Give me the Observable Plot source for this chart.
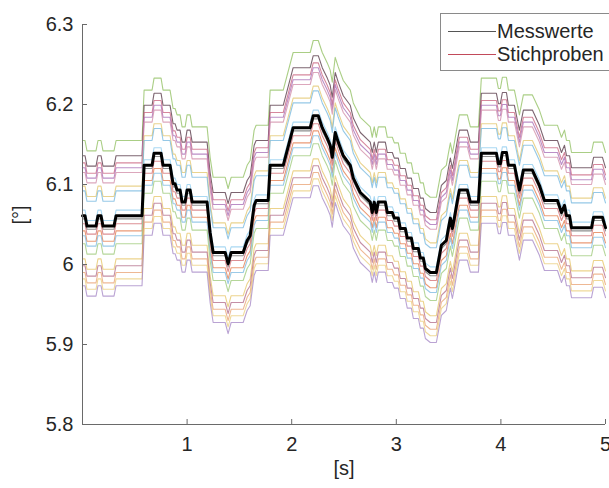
<!DOCTYPE html>
<html>
<head>
<meta charset="utf-8">
<script src="https://cdn.jsdelivr.net/npm/d3@7"></script>
<script src="https://cdn.jsdelivr.net/npm/@observablehq/plot@0.6"></script>
<style>
  html, body { margin: 0; padding: 0; background: #fff; overflow: hidden; }
  #wrap { position: relative; width: 609px; height: 488px; overflow: hidden; }
  #legend { position: absolute; left: 440px; top: 13px; width: 200px; height: 56px;
    border: 1px solid #8a8a8a; background: #fff; font-family: "Liberation Sans", Arial, sans-serif;
    font-size: 20px; color: #262626; }
  .row { position: absolute; left: 0; height: 24px; }
  .sw { position: absolute; left: 7px; width: 48px; height: 0; top: 12px; }
  .lab { position: absolute; left: 56px; top: 0; line-height: 24px; white-space: nowrap; }
</style>
</head>
<body>
<div id="wrap">
  <div id="chart"></div>
  <div id="legend"></div>
</div>
<script>
// time axis [s]
const timeS = [0,0.024,0.043,0.129,0.148,0.177,0.196,0.301,0.321,0.569,0.589,0.665,0.684,0.751,0.770,0.837,0.866,0.885,0.904,0.933,0.952,0.981,1.000,1.029,1.048,1.191,1.220,1.249,1.364,1.392,1.421,1.536,1.574,1.603,1.641,1.660,1.775,1.794,1.919,2.014,2.177,2.206,2.254,2.292,2.340,2.368,2.388,2.416,2.445,2.493,2.560,2.589,2.656,2.751,2.770,2.789,2.809,2.828,2.895,2.914,2.962,2.981,3.019,3.038,3.086,3.105,3.144,3.163,3.211,3.230,3.258,3.278,3.325,3.383,3.431,3.478,3.498,3.517,3.536,3.555,3.584,3.603,3.679,3.708,3.785,3.813,3.957,3.976,3.995,4.014,4.053,4.072,4.129,4.177,4.215,4.301,4.368,4.416,4.541,4.579,4.608,4.627,4.656,4.675,4.866,4.886,4.971,5.000];
// measured angle [°]
const messwerte = [6.061,6.061,6.048,6.048,6.061,6.061,6.048,6.048,6.061,6.061,6.124,6.124,6.139,6.139,6.124,6.124,6.101,6.101,6.093,6.093,6.078,6.078,6.093,6.093,6.078,6.078,6.040,6.015,6.015,6.001,6.015,6.015,6.030,6.036,6.074,6.080,6.080,6.124,6.124,6.171,6.171,6.186,6.186,6.171,6.158,6.149,6.134,6.165,6.153,6.136,6.124,6.108,6.090,6.078,6.065,6.078,6.065,6.078,6.078,6.065,6.065,6.058,6.058,6.045,6.045,6.033,6.033,6.020,6.020,6.008,6.008,5.995,5.990,5.990,6.024,6.030,6.045,6.058,6.045,6.058,6.080,6.093,6.093,6.078,6.078,6.139,6.139,6.126,6.126,6.140,6.140,6.124,6.124,6.093,6.118,6.118,6.099,6.080,6.080,6.065,6.074,6.061,6.061,6.046,6.046,6.059,6.059,6.046];
// sample curves: offset of each sample relative to the measured curve [°]
const stichprobenOffsets = [0.094,0.075,0.066,0.060,0.054,0.037,0.031,0.007,-0.004,-0.010,-0.019,-0.025,-0.035,-0.054,-0.0625,-0.071,-0.079,-0.0875];
const stichprobenColors = ["#8dbd5c","#503040","#c8607c","#a46ab4","#d08aa6","#e2c46a","#72b6de","#8ccbee","#6a6a6a","#d06a70","#e3794a","#7ab8e0","#9cc878","#e6c466","#b06a88","#e8a070","#e9cc7a","#a384c4"];
const xTicks = [1,2,3,4,5];
const yTicks = [5.8,5.9,6,6.1,6.2,6.3];
const legendLabels = ["Messwerte","Stichproben"];
const legendColors = ["#555555","#c24a5a"];

const mess = timeS.map((t, i) => ({t, v: messwerte[i]}));
const samples = [];
stichprobenOffsets.forEach((o, s) => {
  timeS.forEach((t, i) => samples.push({t, v: messwerte[i] + o, s}));
});

const font = "'Liberation Sans', Arial, Helvetica, sans-serif";
const chart = Plot.plot({
  width: 609, height: 488,
  marginLeft: 82, marginRight: 4, marginTop: 24, marginBottom: 64,
  style: {fontFamily: font, fontSize: "20px", color: "#262626", background: "#fff", overflow: "visible"},
  x: {domain: [0, 5]},
  y: {domain: [5.8, 6.3]},
  color: {type: "ordinal", domain: d3.range(stichprobenOffsets.length), range: stichprobenColors},
  marks: [
    Plot.line(samples, {x: "t", y: "v", z: "s", stroke: "s", strokeWidth: 1.1, strokeOpacity: 0.75}),
    Plot.line(mess, {x: "t", y: "v", stroke: "#000", strokeWidth: 3}),
    Plot.ruleX([0], {stroke: "#6a6a6a", strokeWidth: 1}),
    Plot.ruleY([5.8], {stroke: "#6a6a6a", strokeWidth: 1}),
    Plot.axisY({ticks: yTicks, tickFormat: d => String(d), tickSize: -5, tickPadding: 14, stroke: "#6a6a6a", label: null, fontSize: 20}),
    Plot.axisX({ticks: xTicks, tickFormat: d => String(d), tickSize: -5, tickPadding: 17, stroke: "#6a6a6a", label: null, fontSize: 20}),
    Plot.text(["[°]"], {text: d => d, frameAnchor: "left", dx: -62, rotate: -90, fontSize: 20, fill: "#262626"}),
    Plot.text(["[s]"], {text: d => d, frameAnchor: "bottom", dy: 50, fontSize: 20, fill: "#262626"})
  ]
});
document.getElementById("chart").appendChild(chart);

const lg = document.getElementById("legend");
legendLabels.forEach((l, i) => {
  const row = document.createElement("div");
  row.className = "row";
  row.style.top = (5 + i * 23) + "px";
  row.innerHTML = `<div class="sw" style="border-top:1px solid ${legendColors[i]}"></div><div class="lab">${l}</div>`;
  lg.appendChild(row);
});
</script>
</body>
</html>
